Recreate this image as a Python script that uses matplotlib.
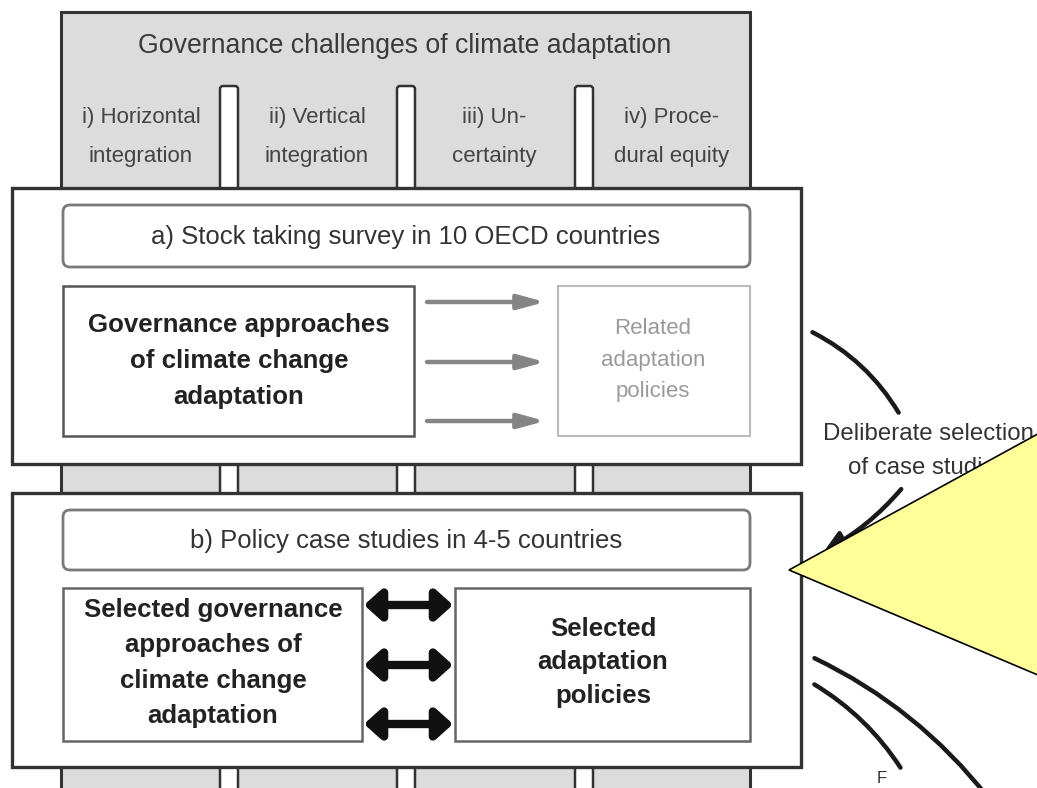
import matplotlib.pyplot as plt
from matplotlib.patches import Rectangle, FancyBboxPatch, FancyArrowPatch, Polygon, ArrowStyle

plt.rcParams['font.family'] = ['Liberation Sans', 'DejaVu Sans']

# texts of the diagram
title = "Governance challenges of climate adaptation"
challenges = ["i) Horizontal\nintegration", "ii) Vertical\nintegration",
              "iii) Un-\ncertainty", "iv) Proce-\ndural equity"]
header_a = "a) Stock taking survey in 10 OECD countries"
header_b = "b) Policy case studies in 4-5 countries"
left_a = "Governance approaches\nof climate change\nadaptation"
right_a = "Related\nadaptation\npolicies"
left_b = "Selected governance\napproaches of\nclimate change\nadaptation"
right_b = "Selected\nadaptation\npolicies"
side_text = "Deliberate selection\nof case studies"
bottom_text = "F"

# layout (pixels, y down)
W, H = 1037, 788
col_x = [141, 317, 494, 672]
pillar_x = [220, 397, 575]
arrow_rows_a = [302, 362, 421]
arrow_rows_b = [605, 665, 724]

fig = plt.figure(figsize=(W / 100, H / 100), dpi=100)
ax = fig.add_axes([0, 0, 1, 1])
ax.set_xlim(0, W)
ax.set_ylim(H, 0)
ax.axis('off')

dark = '#333333'

# grey background frame with the four challenge columns
ax.add_patch(Rectangle((61, 12), 689, 800, fc='#dcdcdc', ec=dark, lw=2.2, zorder=1))
for px in pillar_x:
    ax.add_patch(FancyBboxPatch((px, 86), 18, 720, boxstyle="round,pad=0,rounding_size=3",
                                fc='white', ec=dark, lw=1.8, zorder=2))
ax.text(405, 46, title, ha='center', va='center', fontsize=19.2, color='#3a3a3a', zorder=3)
for cx, lab in zip(col_x, challenges):
    ax.text(cx, 137, lab, ha='center', va='center', fontsize=16, color='#444444',
            linespacing=2.1, zorder=3)

# the two stage boxes
for (y0, h) in [(188, 276), (493, 274)]:
    ax.add_patch(Rectangle((12, y0), 789, h, fc='white', ec=dark, lw=2.4, zorder=4))

# stage headers
ax.add_patch(FancyBboxPatch((63, 205), 687, 62, boxstyle="round,pad=0,rounding_size=7",
                            fc='white', ec='#7a7a7a', lw=2, zorder=5))
ax.text(406, 237, header_a, ha='center', va='center', fontsize=18.5, color='#333333', zorder=6)
ax.add_patch(FancyBboxPatch((63, 510), 687, 60, boxstyle="round,pad=0,rounding_size=7",
                            fc='white', ec='#7a7a7a', lw=2, zorder=5))
ax.text(406, 541, header_b, ha='center', va='center', fontsize=18.5, color='#333333', zorder=6)

# stage a content
ax.add_patch(Rectangle((63, 286), 351, 150, fc='white', ec='#555555', lw=1.8, zorder=5))
ax.text(239, 361, left_a, ha='center', va='center', fontsize=18.6, fontweight='bold',
        color='#222222', linespacing=1.65, zorder=6)
ax.add_patch(Rectangle((558, 286), 192, 150, fc='white', ec='#bbbbbb', lw=1.5, zorder=5))
ax.text(653, 360, right_a, ha='center', va='center', fontsize=16, color='#9a9a9a',
        linespacing=1.65, zorder=6)
for ay in arrow_rows_a:
    ax.add_patch(FancyArrowPatch((427, ay), (545, ay),
                                 arrowstyle=ArrowStyle("-|>", head_length=0.8, head_width=0.22),
                                 mutation_scale=20, lw=3.2, color='#858585',
                                 shrinkA=0, shrinkB=0, zorder=6))

# stage b content
ax.add_patch(Rectangle((63, 588), 299, 153, fc='white', ec='#666666', lw=1.8, zorder=5))
ax.text(213, 663, left_b, ha='center', va='center', fontsize=18.6, fontweight='bold',
        color='#222222', linespacing=1.6, zorder=6)
ax.add_patch(Rectangle((455, 588), 295, 153, fc='white', ec='#666666', lw=1.8, zorder=5))
ax.text(603, 662, right_b, ha='center', va='center', fontsize=18.6, fontweight='bold',
        color='#222222', linespacing=1.5, zorder=6)
for ay in arrow_rows_b:
    ax.add_patch(FancyArrowPatch((364, ay), (453, ay),
                                 arrowstyle=ArrowStyle("<|-|>", head_length=0.5, head_width=0.45),
                                 mutation_scale=20, lw=6, color='#111111',
                                 shrinkA=0, shrinkB=0, zorder=6))

# curved connectors on the right
ax.add_patch(FancyArrowPatch((810, 331), (900, 415), connectionstyle="arc3,rad=-0.15",
                             arrowstyle='-', lw=3.2, color='#1a1a1a', zorder=6))
ax.text(928, 451, side_text, ha='center', va='center', fontsize=17.3, color='#333333',
        linespacing=1.65, zorder=6)
ax.add_patch(FancyArrowPatch((903, 487), (822, 552), connectionstyle="arc3,rad=-0.1",
                             arrowstyle=ArrowStyle("-|>", head_length=0.6, head_width=0.3),
                             mutation_scale=20, lw=3.2, color='#1a1a1a', zorder=6))
ax.add_patch(FancyArrowPatch((812, 657), (990, 800), connectionstyle="arc3,rad=-0.12",
                             arrowstyle='-', lw=3.2, color='#1a1a1a', zorder=6))
ax.add_patch(FancyArrowPatch((812, 683), (902, 770), connectionstyle="arc3,rad=-0.12",
                             arrowstyle='-', lw=3.2, color='#1a1a1a', zorder=6))
ax.text(882, 783, bottom_text, ha='center', va='baseline', fontsize=12, color='#333333', zorder=6)

# yellow callout on top
ax.add_patch(Polygon([(789, 570), (1045, 430), (1045, 678)], closed=True,
                     fc='#ffff99', ec='black', lw=1.2, zorder=10))

fig.savefig('out.png', dpi=100)
